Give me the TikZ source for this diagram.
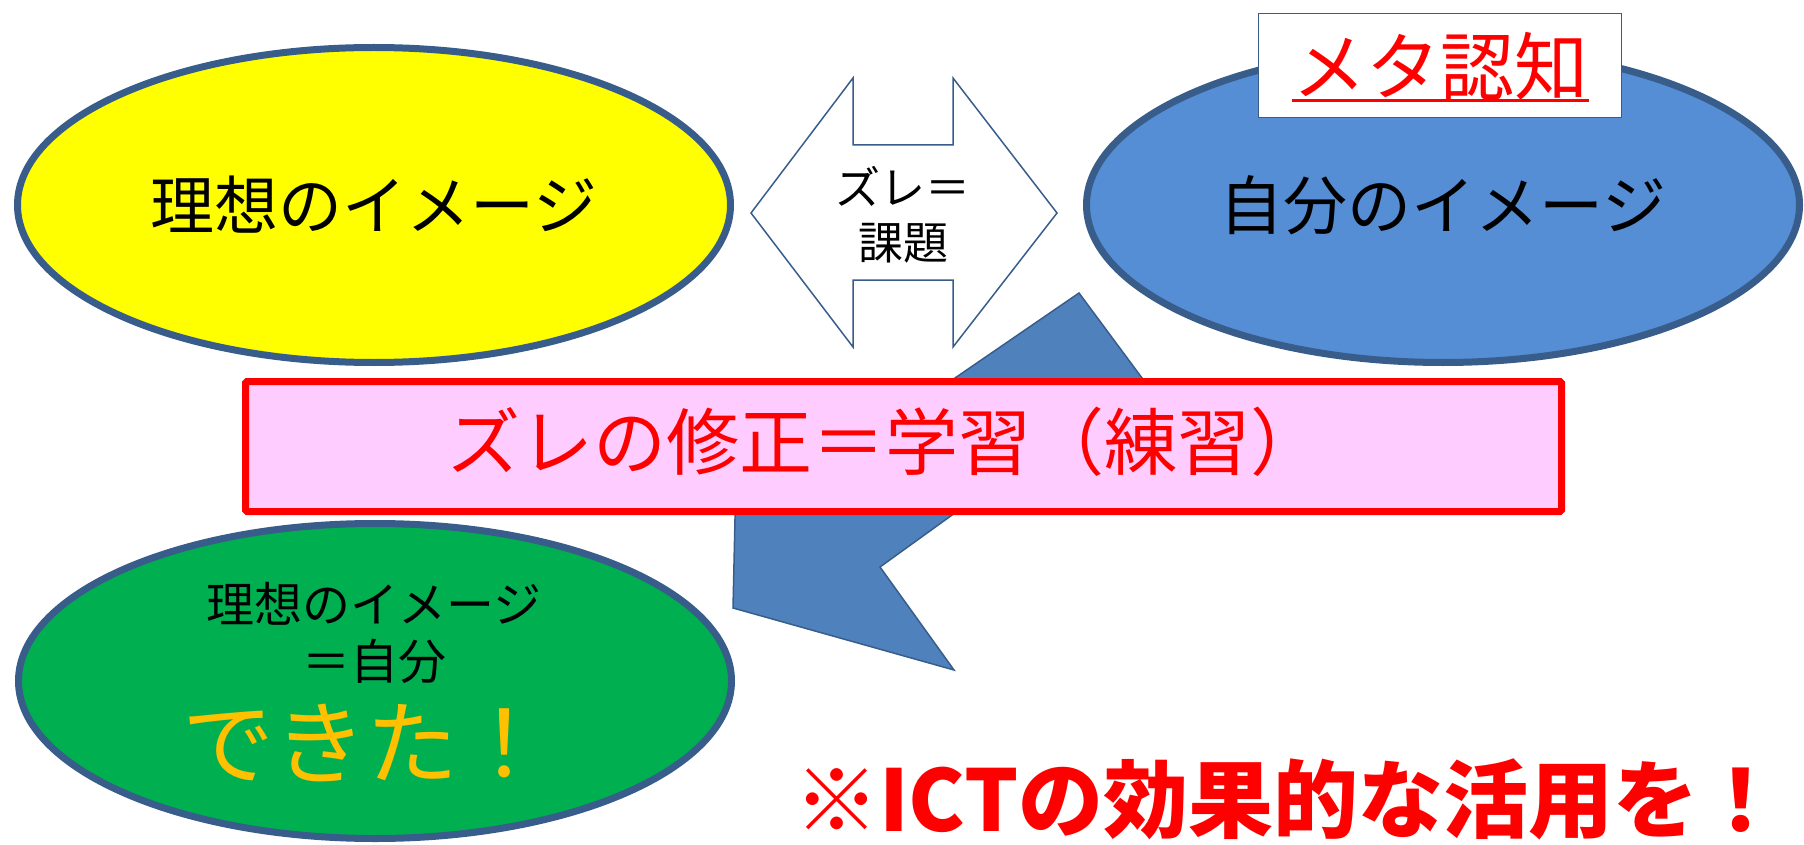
\documentclass[tikz,border=0pt]{standalone}
\usepackage{fontspec}
\newfontfamily\jp{Noto Sans CJK JP}
\usetikzlibrary{shapes.geometric}
\definecolor{edge}{RGB}{56,93,138}
\definecolor{yel}{RGB}{255,255,0}
\definecolor{blu}{RGB}{85,142,213}
\definecolor{grn}{RGB}{0,176,80}
\definecolor{arr}{RGB}{79,129,189}
\definecolor{pnk}{RGB}{255,204,255}
\definecolor{org}{RGB}{255,192,0}
\begin{document}
\begin{tikzpicture}[x=1pt,y=-1pt,
  oval/.style={ellipse, draw=edge, line width=7pt, minimum width=713pt, minimum height=315pt, inner sep=0pt},
  thinedge/.style={draw=edge, line width=1.5pt},
  lbl/.style={inner sep=0pt, align=center}]
\useasboundingbox (0,0) rectangle (1804,845);
% ellipses
\node[oval, fill=yel] (ideal) at (374,205) {};
\node[oval, fill=blu] (self) at (1443,205) {};
\node[oval, fill=grn] (done) at (375,681) {};
% double arrow
\path[thinedge, fill=white] (853,78) -- (853,145) -- (953,145) -- (953,78) -- (1057,213)
  -- (953,347) -- (953,280) -- (853,280) -- (853,347) -- (751,213) -- cycle;
\node[lbl, font=\jp\fontsize{45}{55}\selectfont] (gap) at (903,215) {ズレ＝\\課題};
% meta box
\node[thinedge, fill=white, minimum width=363pt, minimum height=104pt] (metabox) at (1440,65.5) {};
\node[lbl, text=red, font=\jp\fontsize{74}{80}\selectfont] (meta) at (1440,66) {メタ認知};
\draw[red, line width=3pt] (1292,101) -- (1589,101);
% bent arrow
\path[thinedge, fill=arr] (1079,293) -- (1142,378) -- (880,567) -- (954,670) -- (733,608)
  -- (738,385) -- (812,476) -- cycle;
% pink box
\node[draw=red, line width=7pt, rounded corners=1.5pt, fill=pnk, minimum width=1316pt, minimum height=130pt, inner sep=0pt] (fix) at (903.5,446.5) {};
\node[lbl, text=red, font=\jp\fontsize{73}{80}\selectfont] (fixtext) at (885,442) {ズレの修正＝学習（練習）};
% texts in ellipses
\node[lbl, font=\jp\fontsize{64}{70}\selectfont] at (ideal.center) {理想のイメージ};
\node[lbl, font=\jp\fontsize{64}{70}\selectfont] at (self.center) {自分のイメージ};
\node[lbl, font=\jp\fontsize{48}{57}\selectfont] (d1) at (374,633) {理想のイメージ\\＝自分};
\node[lbl, text=org, font=\jp\fontsize{92}{96}\selectfont] (d2) at (366,743) {できた！};
% bottom note
\node[lbl, text=red, font=\jp\bfseries\fontsize{85}{90}\selectfont] (note) at (1289,799) {※ICTの効果的な活用を！};
\end{tikzpicture}
\end{document}
